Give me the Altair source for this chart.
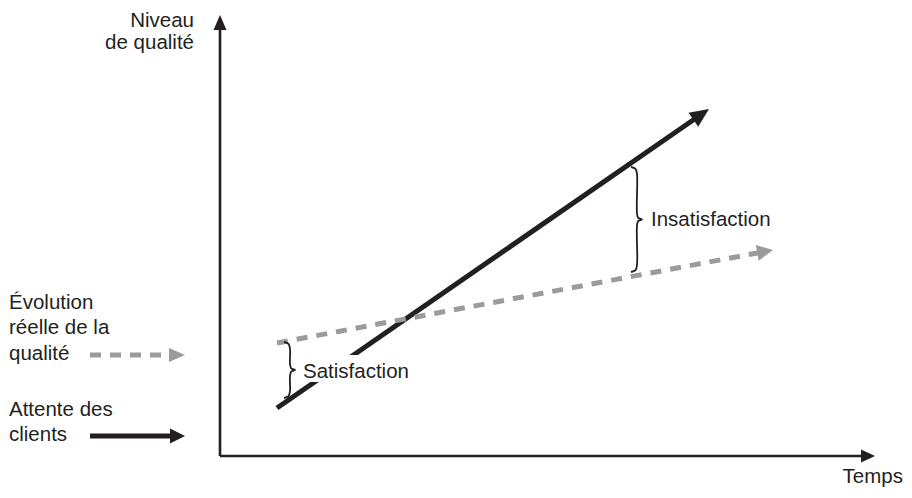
import math
import altair as alt
import pandas as pd

# ---------------- data (arbitrary units, origin at the crossing of the axes) ----------------
# main curves: start / end of each line
series_names = ["Attente des clients", "Évolution réelle de la qualité"]
time_start = [57, 57]
time_end = [489, 553]
level_start = [48, 113]
level_end = [347, 206]

# axes extents
axis_time_max = 655
axis_level_max = 441

# legend samples (start x, end x, level)
legend_names = ["Évolution réelle de la qualité", "Attente des clients"]
legend_x_start = [-130, -130]
legend_x_end = [-35, -35]
legend_level = [101, 20]

# braces (x, top, bottom)
brace_labels = ["Satisfaction", "Insatisfaction"]
brace_x = [70, 417]
brace_top = [114, 289]
brace_bottom = [58, 184]

# texts
text_labels = ["Niveau", "de qualité", "Temps", "Évolution", "réelle de la", "qualité",
               "Attente des", "clients", "Satisfaction", "Insatisfaction"]
text_x = [-26, -26, 683, -211, -211, -211, -211, -211, 83, 431]
text_y = [429, 407, -27, 147, 122, 96, 40, 15, 78, 230]
text_align = ["right", "right", "right", "left", "left", "left", "left", "left", "left", "left"]

# ---------------- styles ----------------
INK = "#231f20"
GREY = "#9b9b9b"
FONT = "Liberation Sans"
FS = 20.5

W, H = 896, 480
X_DOMAIN = [-212, -212 + W]
Y_DOMAIN = [448 - H, 448]

xs = alt.Scale(domain=X_DOMAIN, nice=False, zero=False)
ys = alt.Scale(domain=Y_DOMAIN, nice=False, zero=False)

line_rows = []
dash_rows = []
head_rows = []


def add_arrow(name, x0, y0, x1, y1, color, width, head_len, head_w, dashed=False):
    dx, dy = x1 - x0, y1 - y0
    L = math.hypot(dx, dy)
    ux, uy = dx / L, dy / L
    bx, by = x1 - ux * (head_len - 1.5), y1 - uy * (head_len - 1.5)
    target = dash_rows if dashed else line_rows
    target.append(dict(name=name, i=0, x=x0, y=y0, color=color, w=width))
    target.append(dict(name=name, i=1, x=bx, y=by, color=color, w=width))
    ang = math.degrees(math.atan2(dx, dy)) % 360
    hw = head_w / (2 * head_len)
    head_rows.append(dict(name=name, x=x1, y=y1, color=color, angle=ang,
                          size=(2 * head_len) ** 2,
                          shape=f"M0,0L{-hw:.4f},1L{hw:.4f},1Z"))


# axes
add_arrow("axe_temps", 0, 0, axis_time_max, 0, INK, 2.6, 14, 13)
add_arrow("axe_niveau", 0, 0, 0, axis_level_max, INK, 2.6, 15, 13)

# main curves
add_arrow(series_names[0], time_start[0], level_start[0], time_end[0], level_end[0], INK, 5, 19, 17)
add_arrow(series_names[1], time_start[1], level_start[1], time_end[1], level_end[1], GREY, 5, 16, 16, dashed=True)

# legend samples
add_arrow("leg_" + legend_names[0], legend_x_start[0], legend_level[0], legend_x_end[0], legend_level[0], GREY, 5, 16, 14, dashed=True)
add_arrow("leg_" + legend_names[1], legend_x_start[1], legend_level[1], legend_x_end[1], legend_level[1], INK, 5, 15, 15)

# braces
brace_rows = []
for lab, bxv, yt, yb in zip(brace_labels, brace_x, brace_top, brace_bottom):
    ym = (yt + yb) / 2
    pts = [(bxv - 6, yt), (bxv - 1.5, yt - 1.8), (bxv, yt - 7), (bxv, ym + 6),
           (bxv + 1.2, ym + 1.6), (bxv + 5, ym), (bxv + 1.2, ym - 1.6), (bxv, ym - 6),
           (bxv, yb + 7), (bxv - 1.5, yb + 1.8), (bxv - 6, yb)]
    for k, (px, py) in enumerate(pts):
        brace_rows.append(dict(name=lab, i=k, x=px, y=py))

texts = pd.DataFrame(dict(t=text_labels, x=text_x, y=text_y, align=text_align))

# white knock-out behind the "Satisfaction" label (the line is interrupted there)
sat = texts[texts["t"] == "Satisfaction"].iloc[0]
knock = pd.DataFrame([dict(x=sat["x"] - 3, x2=sat["x"] + 60, y=sat["y"] - 4, y2=sat["y"] + 23)])

enc_xy = dict(x=alt.X("x:Q", scale=xs, axis=None), y=alt.Y("y:Q", scale=ys, axis=None))

solid = alt.Chart(pd.DataFrame(line_rows)).mark_line(strokeCap="butt").encode(
    **enc_xy,
    detail="name:N",
    order="i:Q",
    color=alt.Color("color:N", scale=None),
    strokeWidth=alt.StrokeWidth("w:Q", scale=None),
)

dashed = alt.Chart(pd.DataFrame(dash_rows)).mark_line(strokeCap="butt", strokeDash=[11, 9]).encode(
    **enc_xy,
    detail="name:N",
    order="i:Q",
    color=alt.Color("color:N", scale=None),
    strokeWidth=alt.StrokeWidth("w:Q", scale=None),
)

heads = alt.Chart(pd.DataFrame(head_rows)).mark_point(filled=True, opacity=1, strokeWidth=0).encode(
    **enc_xy,
    color=alt.Color("color:N", scale=None),
    shape=alt.Shape("shape:N", scale=None),
    size=alt.Size("size:Q", scale=None),
    angle=alt.Angle("angle:Q", scale=None),
)

braces = alt.Chart(pd.DataFrame(brace_rows)).mark_line(
    interpolate="catmull-rom", color=INK, strokeWidth=1.8
).encode(**enc_xy, detail="name:N", order="i:Q")

knockout = alt.Chart(knock).mark_rect(color="white").encode(
    x=alt.X("x:Q", scale=xs, axis=None), x2="x2:Q",
    y=alt.Y("y:Q", scale=ys, axis=None), y2="y2:Q",
)

left_t = alt.Chart(texts[texts["align"] == "left"]).mark_text(
    align="left", baseline="alphabetic", font=FONT, fontSize=FS, color=INK
).encode(**enc_xy, text="t:N")
right_t = alt.Chart(texts[texts["align"] == "right"]).mark_text(
    align="right", baseline="alphabetic", font=FONT, fontSize=FS, color=INK
).encode(**enc_xy, text="t:N")

chart = alt.layer(solid, dashed, braces, heads, knockout, left_t, right_t).properties(
    width=W, height=H,
    autosize=alt.AutoSizeParams(type="none"),
    padding=0,
    background="white",
).configure_view(stroke=None)

chart.save("out.html", embed_options={"renderer": "svg", "actions": False})
